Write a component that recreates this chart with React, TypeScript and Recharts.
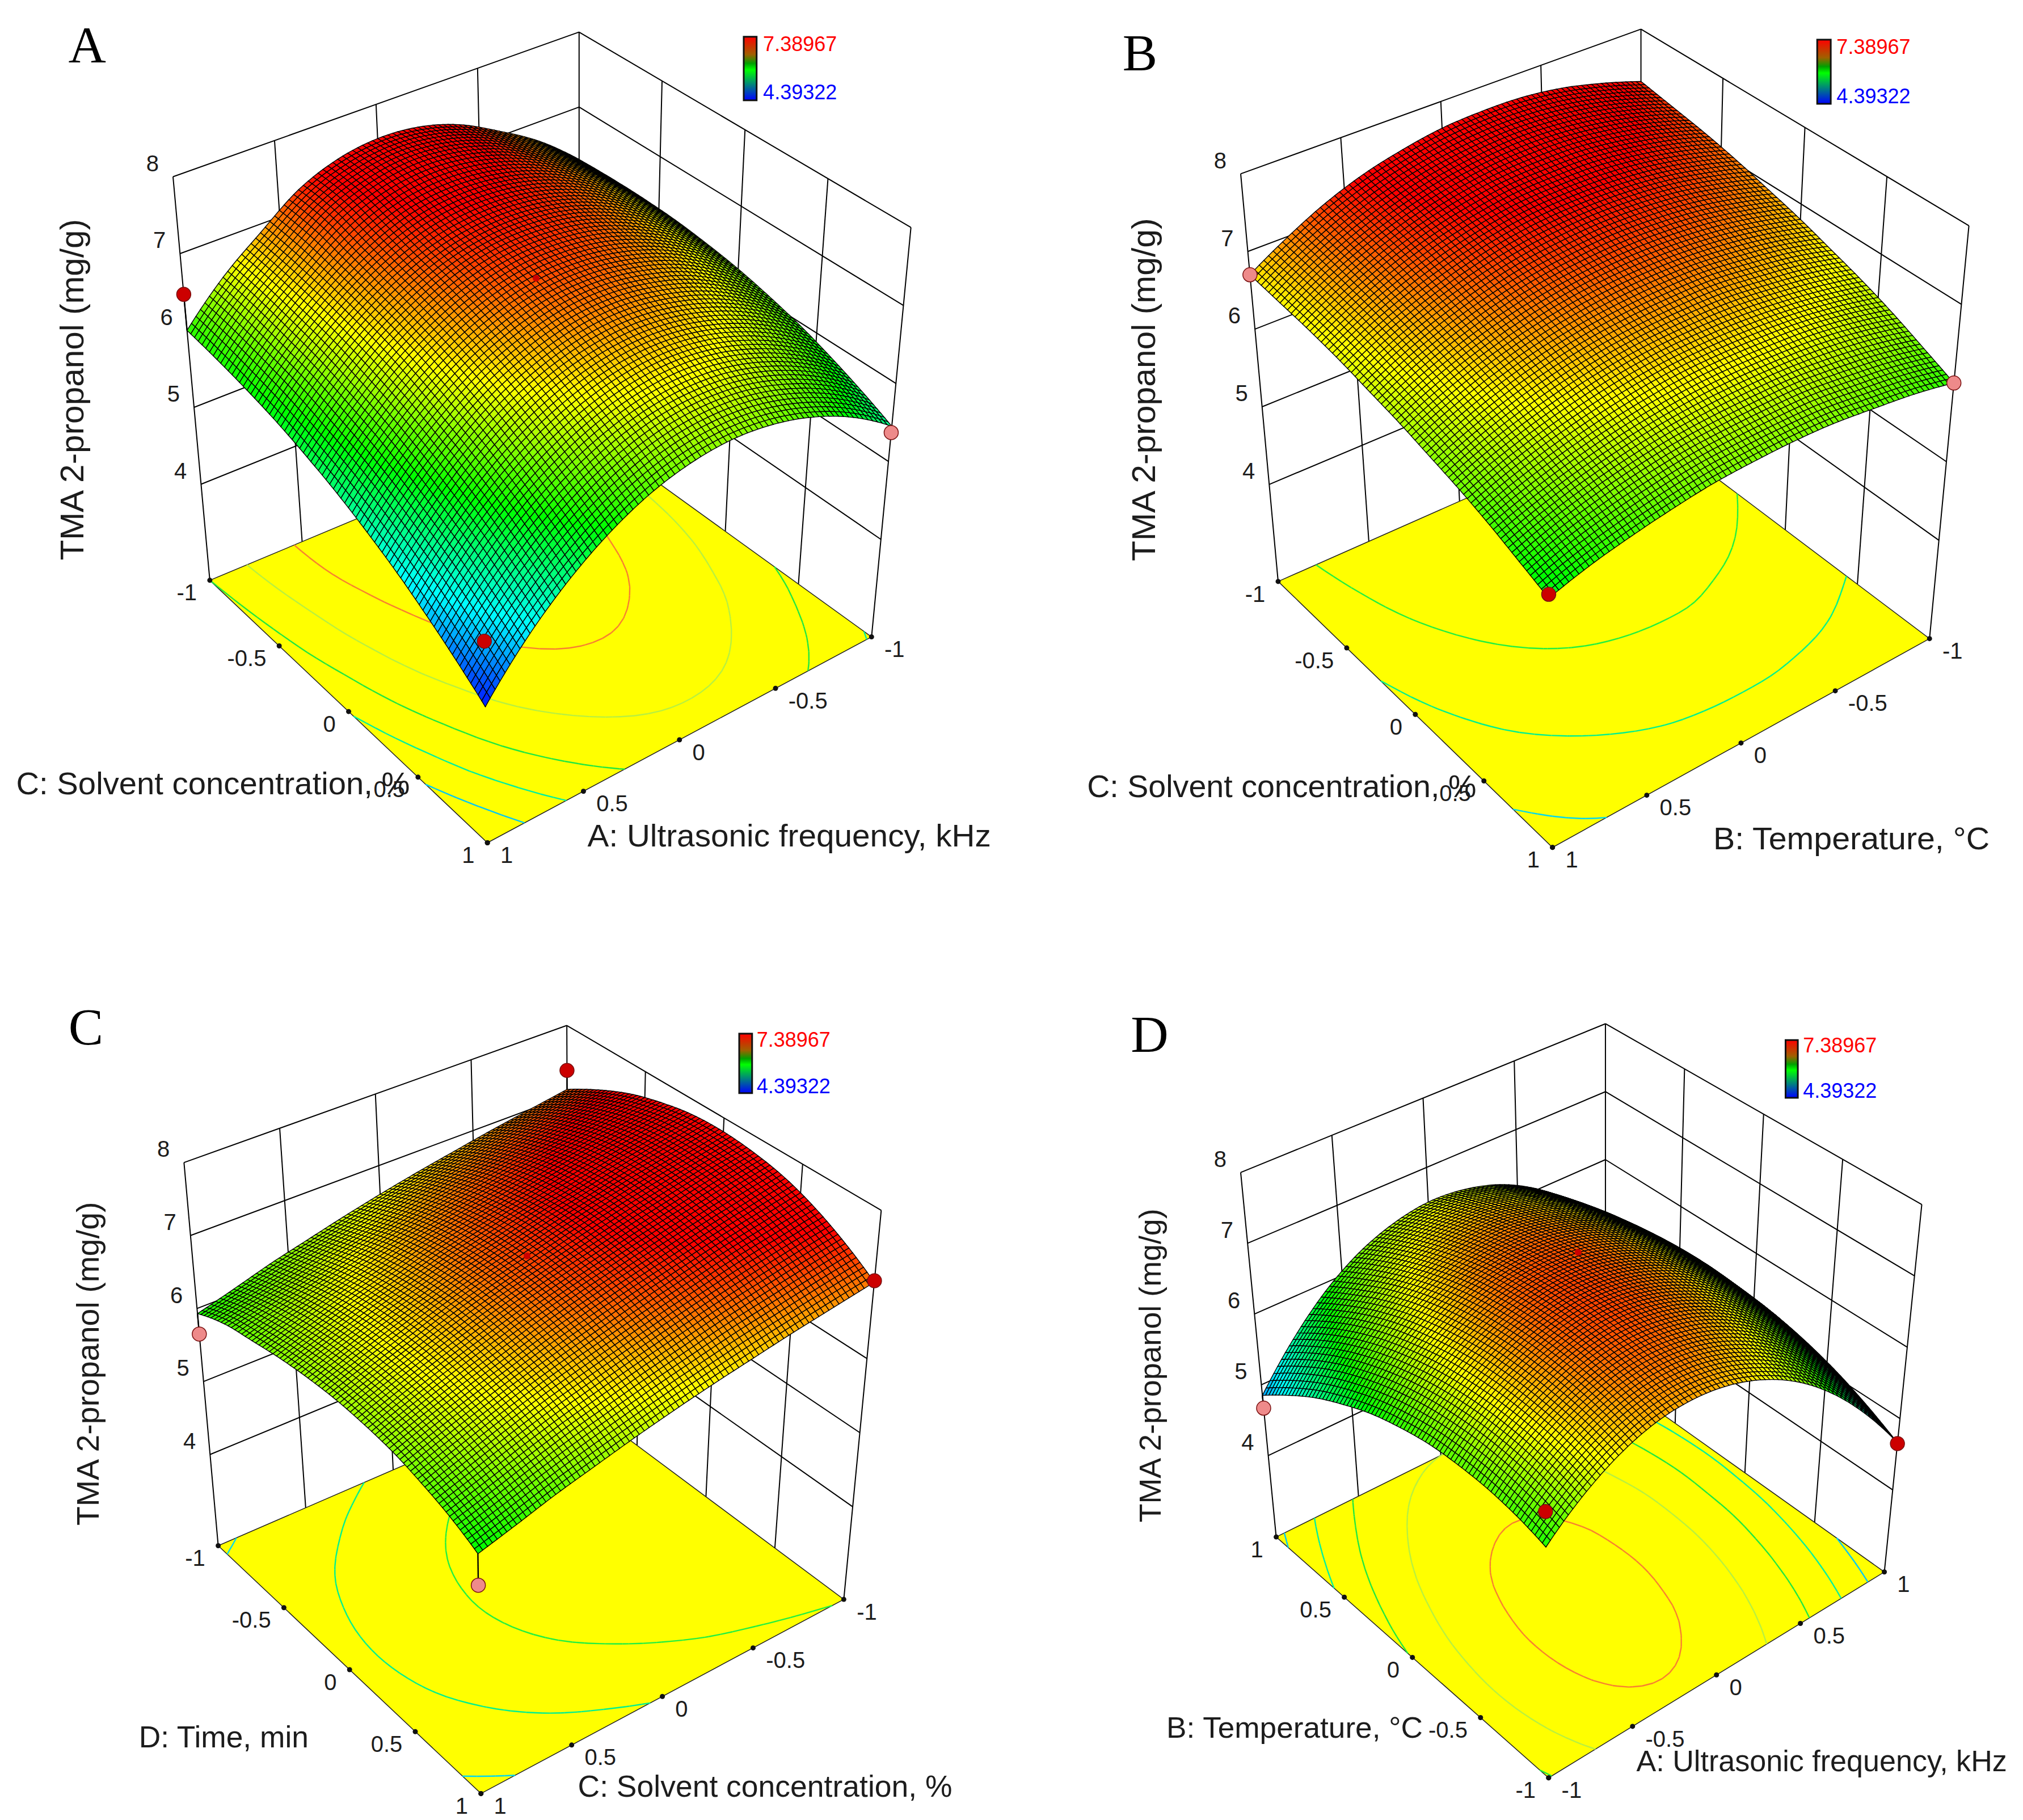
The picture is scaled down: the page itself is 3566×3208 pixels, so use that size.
import React from "react";
import { ScatterChart, Scatter, XAxis, YAxis } from "recharts";

// ---------- values ----------
const Z_TICKS = [4, 5, 6, 7, 8];
const CONTOUR_LEVELS = [5, 5.5, 6, 6.5, 7];
const LEGEND_LABELS = ["7.38967", "4.39322"];
const TICKS_UP = ["-1", "-0.5", "0", "0.5", "1"];
const TICKS_DOWN = ["1", "0.5", "0", "-0.5", "-1"];

const SURFACE_A = [
  [6.0, 6.5, 6.89, 7.26, 7.47, 7.55, 7.51, 7.35, 7.07, 6.74, 6.3],
  [5.95, 6.46, 6.86, 7.24, 7.45, 7.54, 7.5, 7.35, 7.08, 6.75, 6.32],
  [5.88, 6.39, 6.8, 7.13, 7.35, 7.44, 7.42, 7.3, 7.07, 6.75, 6.32],
  [5.79, 6.31, 6.72, 7.03, 7.24, 7.34, 7.34, 7.24, 7.03, 6.71, 6.3],
  [5.67, 6.19, 6.62, 6.93, 7.15, 7.26, 7.26, 7.17, 6.96, 6.66, 6.25],
  [5.53, 6.06, 6.49, 6.81, 7.03, 7.15, 7.16, 7.07, 6.88, 6.58, 6.18],
  [5.36, 5.9, 6.33, 6.67, 6.89, 7.02, 7.04, 6.95, 6.77, 6.47, 6.08],
  [5.17, 5.71, 6.16, 6.5, 6.73, 6.86, 6.89, 6.81, 6.63, 6.35, 5.96],
  [4.95, 5.51, 5.96, 6.3, 6.54, 6.68, 6.72, 6.65, 6.47, 6.19, 5.81],
  [4.71, 5.27, 5.73, 6.08, 6.33, 6.48, 6.52, 6.46, 6.29, 6.02, 5.64],
  [4.45, 5.02, 5.48, 5.84, 6.1, 6.25, 6.3, 6.24, 6.08, 5.82, 5.45],
];
const SURFACE_B = [
  [6.7, 6.99, 7.24, 7.43, 7.56, 7.65, 7.68, 7.67, 7.6, 7.47, 7.3],
  [6.66, 6.94, 7.17, 7.35, 7.48, 7.56, 7.6, 7.58, 7.51, 7.39, 7.22],
  [6.62, 6.88, 7.1, 7.27, 7.39, 7.47, 7.49, 7.48, 7.41, 7.3, 7.14],
  [6.56, 6.81, 7.01, 7.17, 7.29, 7.36, 7.38, 7.36, 7.3, 7.19, 7.04],
  [6.48, 6.72, 6.91, 7.06, 7.17, 7.23, 7.26, 7.24, 7.18, 7.07, 6.92],
  [6.4, 6.62, 6.8, 6.94, 7.04, 7.1, 7.12, 7.1, 7.04, 6.94, 6.8],
  [6.3, 6.51, 6.68, 6.81, 6.9, 6.95, 6.97, 6.96, 6.89, 6.8, 6.66],
  [6.2, 6.39, 6.54, 6.66, 6.75, 6.8, 6.81, 6.79, 6.73, 6.64, 6.52],
  [6.08, 6.25, 6.39, 6.5, 6.58, 6.63, 6.64, 6.62, 6.58, 6.49, 6.36],
  [5.94, 6.11, 6.24, 6.34, 6.41, 6.44, 6.45, 6.44, 6.38, 6.3, 6.18],
  [5.8, 5.95, 6.06, 6.15, 6.22, 6.25, 6.26, 6.24, 6.18, 6.11, 6.0],
];
const SURFACE_C = [
  [5.93, 6.07, 6.22, 6.35, 6.48, 6.6, 6.71, 6.81, 6.91, 7.0, 7.09],
  [6.11, 6.24, 6.38, 6.53, 6.67, 6.82, 6.94, 7.05, 7.16, 7.26, 7.35],
  [6.2, 6.37, 6.53, 6.69, 6.85, 6.99, 7.12, 7.24, 7.35, 7.46, 7.56],
  [6.28, 6.46, 6.64, 6.8, 6.97, 7.11, 7.24, 7.37, 7.49, 7.6, 7.7],
  [6.33, 6.52, 6.7, 6.87, 7.04, 7.18, 7.32, 7.44, 7.57, 7.68, 7.79],
  [6.35, 6.54, 6.72, 6.9, 7.06, 7.2, 7.34, 7.47, 7.59, 7.7, 7.81],
  [6.33, 6.52, 6.7, 6.87, 7.03, 7.17, 7.3, 7.43, 7.55, 7.67, 7.77],
  [6.28, 6.46, 6.63, 6.79, 6.95, 7.09, 7.22, 7.34, 7.46, 7.57, 7.68],
  [6.18, 6.35, 6.52, 6.68, 6.82, 6.95, 7.08, 7.2, 7.32, 7.42, 7.52],
  [6.05, 6.2, 6.36, 6.51, 6.64, 6.77, 6.89, 7.01, 7.11, 7.21, 7.3],
  [5.87, 6.01, 6.16, 6.29, 6.42, 6.54, 6.65, 6.75, 6.85, 6.94, 7.03],
];
const SURFACE_D = [
  [4.85, 5.42, 5.88, 6.21, 6.41, 6.5, 6.46, 6.31, 6.03, 5.62, 5.1],
  [5.18, 5.73, 6.15, 6.46, 6.64, 6.71, 6.65, 6.48, 6.18, 5.76, 5.23],
  [5.47, 5.99, 6.39, 6.67, 6.83, 6.88, 6.8, 6.61, 6.3, 5.86, 5.31],
  [5.7, 6.2, 6.58, 6.84, 6.98, 7.01, 6.91, 6.7, 6.37, 5.93, 5.36],
  [5.89, 6.36, 6.72, 6.97, 7.09, 7.1, 6.99, 6.76, 6.42, 5.96, 5.38],
  [6.02, 6.48, 6.82, 7.05, 7.16, 7.15, 7.02, 6.78, 6.42, 5.94, 5.35],
  [6.11, 6.55, 6.88, 7.09, 7.19, 7.16, 7.02, 6.77, 6.39, 5.9, 5.29],
  [6.14, 6.58, 6.89, 7.09, 7.18, 7.14, 6.98, 6.71, 6.32, 5.81, 5.19],
  [6.13, 6.56, 6.86, 7.05, 7.12, 7.07, 6.91, 6.62, 6.21, 5.69, 5.05],
  [6.07, 6.49, 6.79, 6.97, 7.03, 6.97, 6.79, 6.49, 6.07, 5.53, 4.87],
  [5.96, 6.37, 6.67, 6.85, 6.9, 6.83, 6.64, 6.33, 5.89, 5.33, 4.66],
];

// design points: [position along left axis, position along right axis, response]
const POINTS_A = [[0, 0, 6.47], [1, 0, 5.27], [1, 1, 5.37], [0.5, 0.5, 7.18]];
const POINTS_B = [[0, 0, 6.7], [1, 0, 5.85], [1, 1, 6.0]];
const POINTS_C = [[0, 1, 7.36], [1, 1, 7.05], [0, 0, 5.65], [1, 0, 5.46], [0.5, 0.5, 7.2]];
const POINTS_D = [[0, 0, 4.67], [1, 0, 6.44], [1, 1, 4.65], [0.5, 0.5, 7.25]];
const HIGH_POINTS_A = [true, true, false, true];
const HIGH_POINTS_B = [false, true, false];
const HIGH_POINTS_C = [true, true, false, false, true];
const HIGH_POINTS_D = [false, true, true, true];

// contour colours, in the order of CONTOUR_LEVELS
const CONTOUR_FULL = ["#00c8f8", "#00f0a0", "#20e840", "#b8f040", "#f88030"];
const CONTOUR_COOL = ["#00c8f8", "#00d8f0", "#00d8f0", "#00f090", "#22f040"];

// ---------- layout ----------
const W = 1783;
const H = 1604;
const KX = 1.138;
const KY = 1.028;
const SUB = 8;
const SANS = "'Liberation Sans', Arial, sans-serif";
const INK = "#1c1c1c";

const PANELS = [
  {
    id: "A", left: 0, top: 0, letter: [135, 77],
    L: [325, 995], F: [755, 1445], R: [1350, 1092], B: [897, 730],
    TL: [268, 303], TF: [745, 725], TR: [1411, 390], TB: [897, 55], zFloor: 2.75,
    grid: SURFACE_A, points: POINTS_A, high: HIGH_POINTS_A, leftTicks: TICKS_UP, rightTicks: TICKS_DOWN, contour: CONTOUR_FULL,
    leftTitle: ["C: Solvent concentration, %", 25, 635, 1343, 55], rightTitle: ["A: Ultrasonic frequency, kHz", 910, 1535, 1433, 55],
    zTitle: [111, 668, 585, 58], legend: [1152, 63, 20, 109, 1182, 75, 158],
  },
  {
    id: "B", left: 1783, top: 0, letter: [199, 90],
    L: [413, 997], F: [838, 1453], R: [1422, 1095], B: [975, 722],
    TL: [355, 298], TF: [828, 718], TR: [1483, 387], TB: [975, 50], zFloor: 2.75,
    grid: SURFACE_B, points: POINTS_B, high: HIGH_POINTS_B, leftTicks: TICKS_UP, rightTicks: TICKS_DOWN, contour: CONTOUR_COOL,
    leftTitle: ["C: Solvent concentration, %", 117, 720, 1348, 55], rightTitle: ["B: Temperature, °C", 1087, 1515, 1438, 55],
    zTitle: [204, 668, 588, 58], legend: [1248, 68, 21, 110, 1278, 80, 165],
  },
  {
    id: "C", left: 0, top: 1604, letter: [133, 200],
    L: [338, 1090], F: [745, 1515], R: [1307, 1182], B: [880, 830],
    TL: [285, 433], TF: [737, 823], TR: [1365, 515], TB: [878, 198], zFloor: 2.75,
    grid: SURFACE_C, points: POINTS_C, high: HIGH_POINTS_C, leftTicks: TICKS_UP, rightTicks: TICKS_DOWN, contour: CONTOUR_COOL,
    leftTitle: ["D: Time, min", 215, 478, 1417, 54], rightTitle: ["C: Solvent concentration, %", 895, 1475, 1502, 53],
    zTitle: [136, 778, 555, 55], legend: [1145, 212, 20, 102, 1172, 222, 302],
  },
  {
    id: "D", left: 1783, top: 1604, letter: [214, 213],
    L: [410, 1075], F: [832, 1488], R: [1352, 1135], B: [920, 795],
    TL: [355, 450], TF: [825, 833], TR: [1410, 505], TB: [920, 195], zFloor: 2.85,
    grid: SURFACE_D, points: POINTS_D, high: HIGH_POINTS_D, leftTicks: TICKS_DOWN, rightTicks: TICKS_UP, contour: CONTOUR_FULL,
    leftTitle: ["B: Temperature, °C", 240, 637, 1402, 52], rightTitle: ["A: Ultrasonic frequency, kHz", 968, 1542, 1460, 51],
    zTitle: [214, 781, 538, 54], legend: [1199, 223, 19, 99, 1226, 232, 310],
  },
];

// ---------- projection and colours ----------
const bil = (a: any, b: any, c: any, d: any, p: number, q: number) => [
  (1 - p) * (1 - q) * a[0] + p * (1 - q) * b[0] + (1 - p) * q * c[0] + p * q * d[0],
  (1 - p) * (1 - q) * a[1] + p * (1 - q) * b[1] + (1 - p) * q * c[1] + p * q * d[1],
];
const project = (P: any, p: number, q: number, z: number) => {
  const g = bil(P.L, P.F, P.B, P.R, p, q);
  const t = bil(P.TL, P.TF, P.TB, P.TR, p, q);
  const w = (z - P.zFloor) / (8 - P.zFloor);
  return [g[0] + (t[0] - g[0]) * w, g[1] + (t[1] - g[1]) * w];
};
const colour = (z: number) => {
  const lo = 4.39322, hi = 7.38967;
  const t = Math.max(0, Math.min(1, (z - lo) / (hi - lo))) * 4;
  const k = Math.floor(Math.min(t, 3.999));
  const f = t - k;
  let c = [0, 0, 0];
  if (k === 0) c = [0, 255 * f, 255];
  if (k === 1) c = [0, 255, 255 * (1 - f)];
  if (k === 2) c = [255 * f, 255, 0];
  if (k === 3) c = [255, 255 * (1 - f), 0];
  return `rgb(${Math.round(c[0])},${Math.round(c[1])},${Math.round(c[2])})`;
};

// smooth shading between the stored grid values (a drawing detail of the mesh)
const spline = (f: (k: number) => number, x: number, n: number) => {
  const i = Math.min(n - 1, Math.floor(x));
  const t = x - i;
  const g = (k: number) => (k < 0 ? 3 * f(0) - 3 * f(1) + f(2) : k > n ? 3 * f(n) - 3 * f(n - 1) + f(n - 2) : f(k));
  const a = g(i - 1), b = g(i), c = g(i + 1), d = g(i + 2);
  return b + 0.5 * t * (c - a + t * (2 * a - 5 * b + 4 * c - d + t * (3 * b - a - 3 * c + d)));
};
const zSmooth = (G: number[][], u: number, v: number) => {
  const n = G.length - 1;
  return spline((r) => spline((c) => G[r][c], v, n), u, n);
};
const fineMesh = (P: any) => {
  const n = P.grid.length - 1;
  const m = n * SUB;
  const z: number[][] = [];
  for (let a = 0; a <= m; a++) {
    const row: number[] = [];
    for (let b = 0; b <= m; b++) row.push(zSmooth(P.grid, a / SUB, b / SUB));
    z.push(row);
  }
  return { z, m };
};

// ---------- marks ----------
const seg = (a: number[], b: number[], stroke = "#000", w = 2) => ({ x: a[0], y: a[1], x2: b[0], y2: b[1], stroke, w });

const wallLines = (P: any) => {
  const out: any[] = [];
  const z0 = P.zFloor;
  out.push(seg(project(P, 0, 0, 8), project(P, 0, 1, 8)));
  out.push(seg(project(P, 0, 1, 8), project(P, 1, 1, 8)));
  [0, 0.25, 0.5, 0.75, 1].forEach((q) => out.push(seg(project(P, 0, q, z0), project(P, 0, q, 8))));
  [0.25, 0.5, 0.75, 1].forEach((p) => out.push(seg(project(P, p, 1, z0), project(P, p, 1, 8))));
  Z_TICKS.slice(0, 4).forEach((z) => {
    out.push(seg(project(P, 0, 0, z), project(P, 0, 1, z)));
    out.push(seg(project(P, 0, 1, z), project(P, 1, 1, z)));
  });
  return out;
};

const contourLines = (P: any, mesh: any) => {
  const G = mesh.z;
  const st = 2;
  const m = mesh.m;
  const out: any[] = [];
  CONTOUR_LEVELS.forEach((level, li) => {
    // nudged so a mesh vertex never sits exactly on the level and breaks the line
    const lv = level + 0.00137;
    for (let i = 0; i < m; i += st) {
      for (let j = 0; j < m; j += st) {
        const a = G[i][j], b = G[i + st][j], c = G[i + st][j + st], d = G[i][j + st];
        const hits: number[][] = [];
        if ((a - lv) * (b - lv) < 0) hits.push([i + (st * (lv - a)) / (b - a), j]);
        if ((b - lv) * (c - lv) < 0) hits.push([i + st, j + (st * (lv - b)) / (c - b)]);
        if ((d - lv) * (c - lv) < 0) hits.push([i + (st * (lv - d)) / (c - d), j + st]);
        if ((a - lv) * (d - lv) < 0) hits.push([i, j + (st * (lv - a)) / (d - a)]);
        for (let h = 0; h + 1 < hits.length; h += 2) {
          out.push(seg(
            project(P, hits[h][0] / m, hits[h][1] / m, P.zFloor),
            project(P, hits[h + 1][0] / m, hits[h + 1][1] / m, P.zFloor),
            P.contour[li], 2.4));
        }
      }
    }
  });
  return out;
};

const surfaceCells = (P: any, mesh: any) => {
  const G = P.grid;
  const n = G.length - 1;
  const m = mesh.m;
  const Z = mesh.z;
  const out: any[] = [];
  const vertex = (a: number, b: number) => project(P, a / m, b / m, Z[a][b]);
  for (let i = 0; i < n; i++) {
    for (let j = n - 1; j >= 0; j--) {
      const polys: any[] = [];
      for (let a = i * SUB; a < (i + 1) * SUB; a++) {
        for (let b = (j + 1) * SUB - 1; b >= j * SUB; b--) {
          polys.push({
            pts: [vertex(a, b), vertex(a + 1, b), vertex(a + 1, b + 1), vertex(a, b + 1)],
            fill: colour((Z[a][b] + Z[a + 1][b] + Z[a + 1][b + 1] + Z[a][b + 1]) / 4),
          });
        }
      }
      const o = project(P, i / n, j / n, G[i][j]);
      out.push({ x: o[0], y: o[1], polys });
    }
  }
  return out;
};

const pointMarks = (P: any) =>
  P.points.map((pt: number[], k: number) => {
    const m = project(P, pt[0], pt[1], pt[2]);
    return { x: m[0], y: m[1], fill: P.high[k] ? "#cc0000" : "#ee8a8a", r: pt[0] === 0.5 ? 6 : 12.5 };
  });
const stems = (P: any, mesh: any) =>
  P.points
    .filter((pt: number[]) => pt[0] !== 0.5)
    .map((pt: number[]) =>
      seg(project(P, pt[0], pt[1], pt[2]), project(P, pt[0], pt[1], mesh.z[pt[0] * mesh.m][pt[1] * mesh.m]), "#000", 2.4));

const tickDots = (P: any) => {
  const out: any[] = [];
  [0, 0.25, 0.5, 0.75, 1].forEach((f) => {
    const a = project(P, f, 0, P.zFloor);
    const b = project(P, 1, f, P.zFloor);
    out.push({ x: a[0], y: a[1], fill: "#111", r: 4.5 });
    out.push({ x: b[0], y: b[1], fill: "#111", r: 4.5 });
  });
  return out;
};

const labels = (P: any) => {
  const out: any[] = [];
  const base = { size: 40, fill: INK, family: SANS };
  P.leftTicks.forEach((t: string, k: number) => {
    const a = project(P, k / 4, 0, P.zFloor);
    out.push({ ...base, x: a[0] - 20, y: a[1] + 21, text: t, anchor: "end" });
  });
  P.rightTicks.forEach((t: string, k: number) => {
    const a = project(P, 1, k / 4, P.zFloor);
    out.push({ ...base, x: a[0] + 20, y: a[1] + 21, text: t, anchor: "start" });
  });
  Z_TICKS.forEach((z) => {
    const a = project(P, 0, 0, z);
    out.push({ ...base, x: a[0] - 22, y: a[1] - 23, text: String(z), anchor: "end" });
  });
  [P.leftTitle, P.rightTitle].forEach((t: any) => {
    out.push({ ...base, size: t[4], x: t[1], y: t[3], text: t[0], anchor: "start", len: (t[2] - t[1]) * KX });
  });
  out.push({ ...base, size: P.zTitle[3], x: P.zTitle[0], y: P.zTitle[1], text: "TMA 2-propanol (mg/g)", anchor: "middle", rot: true, len: P.zTitle[2] * KY });
  out.push({ size: 36, family: SANS, fill: "#ff0000", x: P.legend[4], y: P.legend[5], text: LEGEND_LABELS[0], anchor: "start" });
  out.push({ size: 36, family: SANS, fill: "#0000ff", x: P.legend[4], y: P.legend[6], text: LEGEND_LABELS[1], anchor: "start" });
  out.push({ size: 92, family: "'Liberation Serif', serif", fill: "#000", x: P.letter[0], y: P.letter[1], text: P.id, anchor: "middle" });
  return out;
};

// ---------- shapes: every offset is relative to the point the axes placed ----------
const LineShape = ({ cx, cy, payload: d }: any) => (
  <line x1={cx} y1={cy} x2={cx + (d.x2 - d.x) * KX} y2={cy + (d.y2 - d.y) * KY} stroke={d.stroke} strokeWidth={d.w} />
);
const polyPoints = (pts: number[][], d: any, cx: number, cy: number) =>
  pts.map((p) => `${(cx + (p[0] - d.x) * KX).toFixed(1)},${(cy + (p[1] - d.y) * KY).toFixed(1)}`).join(" ");
const FloorShape = ({ cx, cy, payload: d }: any) => (
  <polygon points={polyPoints(d.pts, d, cx, cy)} fill="#ffff00" stroke="#222" strokeWidth={1.5} />
);
const CellShape = ({ cx, cy, payload: d }: any) => (
  <g>
    {d.polys.map((q: any, k: number) => (
      <polygon key={k} points={polyPoints(q.pts, d, cx, cy)} fill={q.fill} stroke="#000" strokeWidth={1.4} />
    ))}
  </g>
);
const DotShape = ({ cx, cy, payload: d }: any) => (
  <circle cx={cx} cy={cy} r={d.r} fill={d.fill} stroke={d.r > 6 ? "#7a1010" : "none"} strokeWidth={1.5} />
);
const TextShape = ({ cx, cy, payload: d }: any) => (
  <text
    x={cx}
    y={cy}
    fontFamily={d.family}
    fontSize={d.size}
    fill={d.fill}
    textAnchor={d.anchor}
    dominantBaseline="central"
    textLength={d.len}
    lengthAdjust={d.len ? "spacingAndGlyphs" : undefined}
    transform={d.rot ? `rotate(-90 ${cx} ${cy})` : undefined}
  >
    {d.text}
  </text>
);
const LegendShape = ({ cx, cy, payload: d }: any) => (
  <g>
    <defs>
      <linearGradient id={`bar${d.id}`} x1="0" y1="0" x2="0" y2="1">
        <stop offset="0" stopColor="#ff0000" />
        <stop offset="0.28" stopColor="#a06000" />
        <stop offset="0.42" stopColor="#00a000" />
        <stop offset="0.52" stopColor="#00ff00" />
        <stop offset="0.76" stopColor="#008080" />
        <stop offset="1" stopColor="#0000ff" />
      </linearGradient>
    </defs>
    <rect x={cx} y={cy} width={d.w * KX} height={d.h * KY} fill={`url(#bar${d.id})`} stroke="#111" strokeWidth={3} />
  </g>
);

const Panel = ({ P }: any) => {
  const mesh = fineMesh(P);
  const series: [any[], any][] = [
    [wallLines(P), LineShape],
    [[{ x: P.L[0], y: P.L[1], pts: [P.L, P.F, P.R, P.B] }], FloorShape],
    [contourLines(P, mesh), LineShape],
    [tickDots(P), DotShape],
    [stems(P, mesh), LineShape],
    [surfaceCells(P, mesh), CellShape],
    [pointMarks(P), DotShape],
    [[{ x: P.legend[0], y: P.legend[1], w: P.legend[2], h: P.legend[3], id: P.id }], LegendShape],
    [labels(P), TextShape],
  ];
  return (
    <div style={{ position: "absolute", left: P.left, top: P.top, width: W, height: H }}>
      <ScatterChart width={W} height={H} margin={{ top: 0, right: 0, bottom: 0, left: 0 }}>
        <XAxis type="number" dataKey="x" domain={[0, W / KX]} hide allowDataOverflow />
        <YAxis type="number" dataKey="y" domain={[0, H / KY]} reversed hide allowDataOverflow />
        {series.map(([data, shape], k) => (
          <Scatter key={k} data={data} shape={shape} isAnimationActive={false} legendType="none" />
        ))}
      </ScatterChart>
    </div>
  );
};

export default function App() {
  return (
    <div style={{ position: "absolute", left: 0, top: 0, width: 3566, height: 3208, background: "#fff", overflow: "hidden" }}>
      {PANELS.map((P) => (
        <Panel key={P.id} P={P} />
      ))}
    </div>
  );
}
